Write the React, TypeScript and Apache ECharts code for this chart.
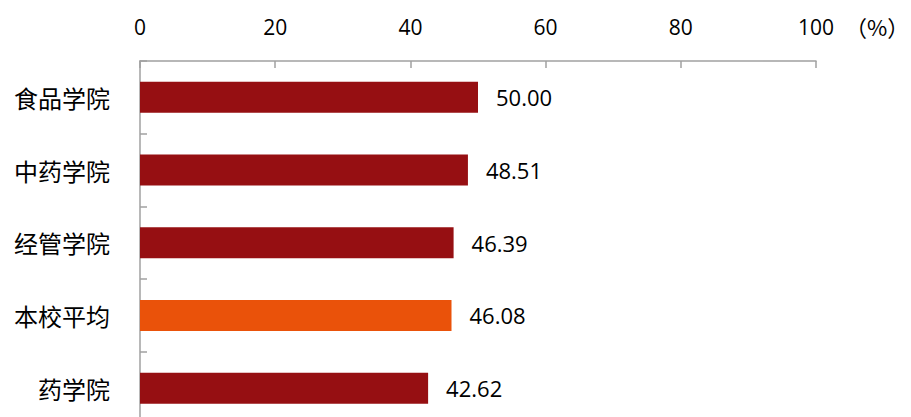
import React, { useEffect, useRef } from "react";
import * as echarts from "echarts";

const categories = ["食品学院", "中药学院", "经管学院", "本校平均", "药学院"];
const values = [50.0, 48.51, 46.39, 46.08, 42.62];
const highlight = "本校平均";
const xTicks = [0, 20, 40, 60, 80, 100];

export default function App() {
  const ref = useRef<HTMLDivElement>(null);
  useEffect(() => {
    if (!ref.current) return;
    const chart = echarts.init(ref.current, null, { renderer: "svg" });
    chart.setOption({
      animation: false,
      backgroundColor: "#ffffff",
      grid: { left: 140, right: 95, top: 61, height: 363.5 },
      graphic: [
        {
          type: "text",
          left: 845,
          top: 15,
          style: {
            text: "（%）",
            font: '22px "Noto Sans CJK SC"',
            fill: "#000",
          },
        },
      ],
      xAxis: {
        type: "value",
        position: "top",
        min: xTicks[0],
        max: xTicks[xTicks.length - 1],
        interval: 20,
        axisLine: { show: true, lineStyle: { color: "#A0A0A0", width: 1.5 } },
        axisTick: { show: true, inside: true, length: 7, lineStyle: { color: "#A0A0A0", width: 1.5 } },
        splitLine: { show: false },
        axisLabel: {
          margin: 24,
          color: "#000",
          fontSize: 21,
          fontFamily: "Open Sans",
        },
      },
      yAxis: {
        type: "category",
        data: categories,
        inverse: true,
        axisLine: { show: true, lineStyle: { color: "#A0A0A0", width: 1.5 } },
        axisTick: { show: true, inside: true, length: 7, lineStyle: { color: "#A0A0A0", width: 1.5 } },
        axisLabel: {
          margin: 30,
          color: "#000",
          fontSize: 24,
          fontFamily: "Noto Sans CJK SC",
        },
      },
      series: [
        {
          type: "bar",
          barWidth: 31,
          data: categories.map((c, i) => ({
            value: values[i],
            itemStyle: { color: c === highlight ? "#EA520A" : "#960F12" },
          })),
          label: {
            show: true,
            position: "right",
            distance: 18,
            color: "#000",
            fontSize: 22,
            fontFamily: "Open Sans",
            formatter: (p: any) => Number(p.value).toFixed(2),
          },
        },
      ],
    });
    return () => chart.dispose();
  }, []);
  return (
    <div style={{ position: "absolute", left: 0, top: 0, width: 911, height: 417, overflow: "hidden" }}>
      <div ref={ref} style={{ width: 911, height: 430 }} />
    </div>
  );
}
